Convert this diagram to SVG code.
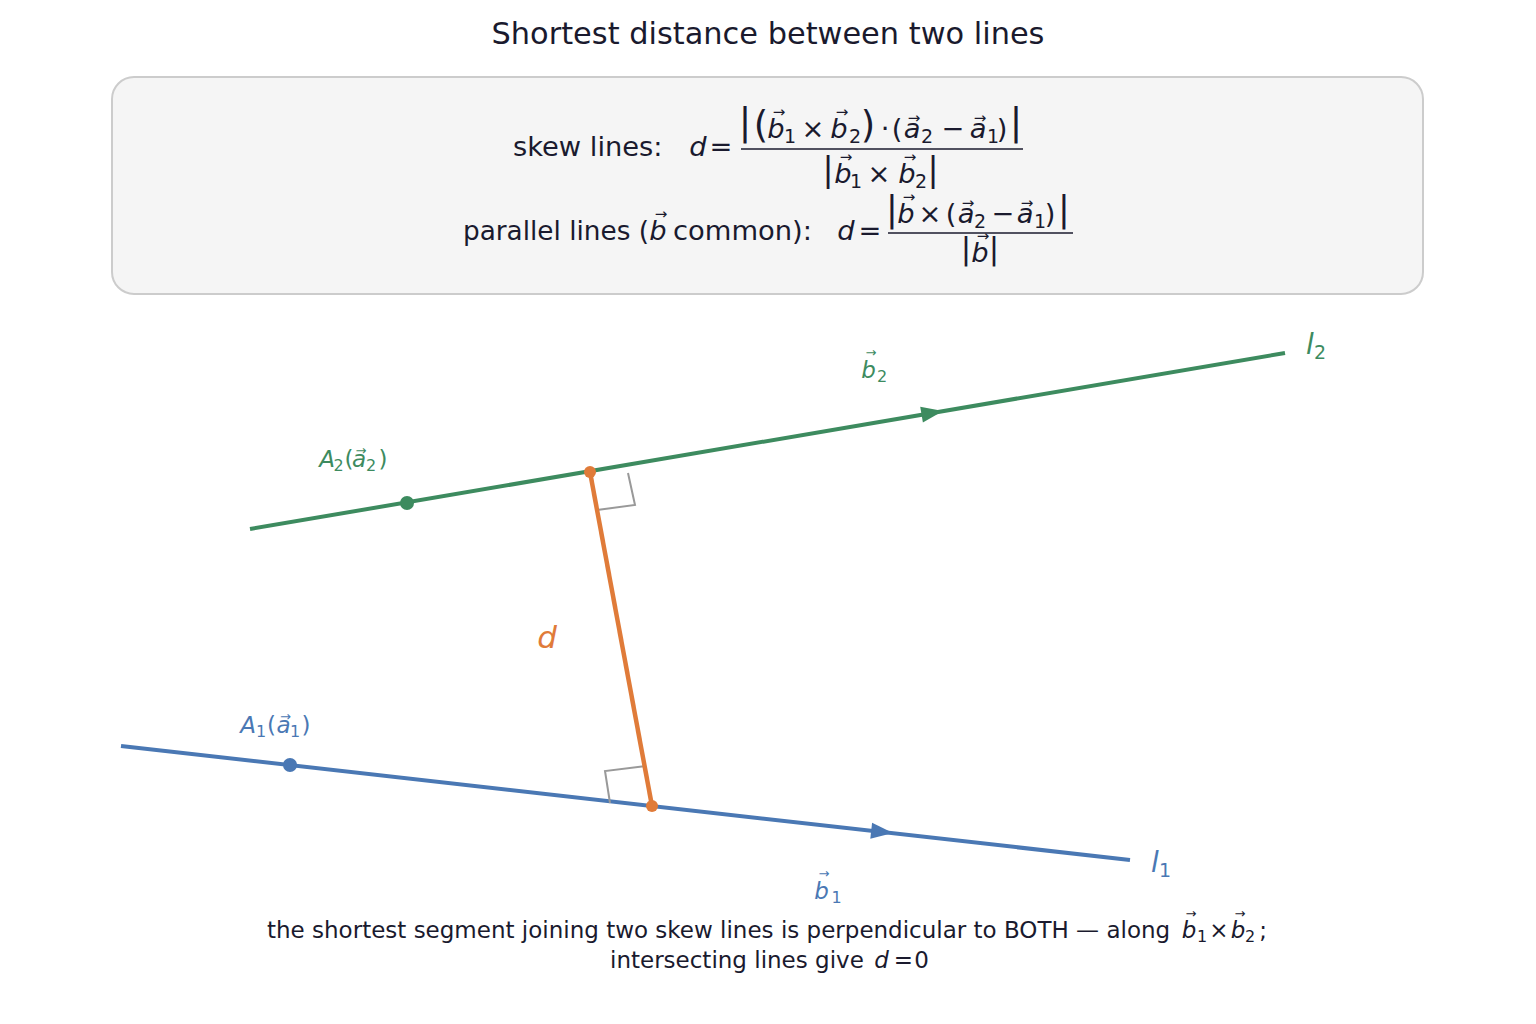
<svg xmlns="http://www.w3.org/2000/svg" width="1536" height="1024" viewBox="0 0 1536 1024">
<style>
text{font-family:"DejaVu Sans","Liberation Sans",sans-serif;fill:#1a1a2e}
.t{font-size:30.4px}
.m{font-size:27.3px}
.ms{font-size:19px}
.i{font-style:italic}
.c{text-anchor:middle}
.v{font-size:15px;text-anchor:middle}
.vs{font-size:13px;text-anchor:middle}
.cap{font-size:23px}
.caps{font-size:16px}
.lb{font-size:23px}
.lbs{font-size:16px}
.g{fill:#3d8b5f}
.b{fill:#4a78b4}
.o{fill:#e07b39}
.gl{stroke:#3d8b5f;stroke-width:4;fill:none}
.bl{stroke:#4a78b4;stroke-width:4;fill:none}
.ol{stroke:#e07b39;stroke-width:4.5;fill:none}
.ra{stroke:#999999;stroke-width:2;fill:none}
</style>
<rect width="1536" height="1024" fill="#ffffff"/>
<g id="title"><text class="t c" x="768" y="44">Shortest distance between two lines</text></g>

<g id="formula-box">
<rect x="112" y="77" width="1311" height="217" rx="22" fill="#f5f5f5" stroke="#cccccc" stroke-width="2"/>
<text class="m" x="513" y="156">skew lines:</text>
<text class="m i c" x="698" y="156">d</text>
<text class="m c" x="721" y="156">=</text>
<line x1="741" y1="149" x2="1023" y2="149" stroke="#1a1a2e" stroke-width="1.3"/>
<text class="c" style="font-size:37px" x="745" y="135">|</text>
<text class="c" style="font-size:37px" x="761" y="138">(</text>
<text class="m i c" x="776" y="138">b</text><text class="v" x="779" y="117">→</text>
<text class="ms c" x="790" y="143">1</text>
<text class="m c" x="813" y="138">×</text>
<text class="m i c" x="839" y="138">b</text><text class="v" x="842" y="117">→</text>
<text class="ms c" x="855" y="143">2</text>
<text class="c" style="font-size:37px" x="868" y="138">)</text>
<text class="m c" x="885" y="138">·</text>
<text class="m c" x="897" y="138">(</text>
<text class="m i c" x="912" y="138">a</text><text class="v" x="914" y="123">→</text>
<text class="ms c" x="927" y="143">2</text>
<text class="m c" x="953" y="138">−</text>
<text class="m i c" x="978" y="138">a</text><text class="v" x="980" y="123">→</text>
<text class="ms c" x="993" y="143">1</text>
<text class="m c" x="1002" y="138">)</text>
<text class="c" style="font-size:37px" x="1016" y="135">|</text>
<text class="c" style="font-size:33px" x="828" y="181">|</text>
<text class="m i c" x="843" y="183">b</text><text class="v" x="846" y="162">→</text>
<text class="ms c" x="856" y="188">1</text>
<text class="m c" x="879" y="183">×</text>
<text class="m i c" x="907" y="183">b</text><text class="v" x="910" y="162">→</text>
<text class="ms c" x="921" y="188">2</text>
<text class="c" style="font-size:33px" x="933" y="181">|</text>
<text class="m" x="463" y="240" textLength="186" lengthAdjust="spacingAndGlyphs">parallel lines (</text>
<text class="m i c" x="658" y="240">b</text><text class="v" x="661" y="219">→</text>
<text class="m" x="673" y="240" textLength="139" lengthAdjust="spacingAndGlyphs">common):</text>
<text class="m i c" x="846" y="240">d</text>
<text class="m c" x="870" y="240">=</text>
<line x1="888" y1="233" x2="1073" y2="233" stroke="#1a1a2e" stroke-width="1.3"/>
<text class="c" style="font-size:35px" x="892" y="221">|</text>
<text class="m i c" x="906" y="223">b</text><text class="v" x="909" y="202">→</text>
<text class="m c" x="930" y="223">×</text>
<text class="m c" x="951" y="223">(</text>
<text class="m i c" x="966" y="223">a</text><text class="v" x="968" y="208">→</text>
<text class="ms c" x="980" y="228">2</text>
<text class="m c" x="1003" y="223">−</text>
<text class="m i c" x="1025" y="223">a</text><text class="v" x="1027" y="208">→</text>
<text class="ms c" x="1040" y="228">1</text>
<text class="m c" x="1050" y="223">)</text>
<text class="c" style="font-size:35px" x="1064" y="221">|</text>
<text class="c" style="font-size:31px" x="966" y="259">|</text>
<text class="m i c" x="980" y="262">b</text><text class="v" x="983" y="241">→</text>
<text class="c" style="font-size:31px" x="994" y="259">|</text>
</g>

<g id="line-l2">
<line class="gl" x1="250" y1="529" x2="1285" y2="353"/>
<polygon class="g" points="943,411 922.9,422.5 920.2,406.7"/>
<circle class="g" cx="407" cy="503" r="7"/>
<text class="lb i c g" x="327" y="467">A</text>
<text class="lbs c g" x="338.5" y="471">2</text>
<text class="lb c g" x="349" y="467">(</text>
<text class="lb i c g" x="359" y="467">a</text><text class="vs g" x="361" y="455">→</text>
<text class="lbs c g" x="371" y="471">2</text>
<text class="lb c g" x="383" y="467">)</text>
<text class="lb i c g" x="868.5" y="378">b</text><text class="vs g" x="871" y="357">→</text>
<text class="lbs c g" x="882" y="382">2</text>
<text class="i c g" style="font-size:28px" x="1310" y="354">l</text>
<text class="c g" style="font-size:19px" x="1320" y="359">2</text>
</g>

<g id="line-l1">
<line class="bl" x1="121" y1="746" x2="1130" y2="860"/>
<polygon class="b" points="893,833 872.1,822.8 870.3,838.7"/>
<circle class="b" cx="290" cy="765" r="7"/>
<text class="lb i c b" x="248" y="733">A</text>
<text class="lbs c b" x="261" y="737">1</text>
<text class="lb c b" x="271.5" y="733">(</text>
<text class="lb i c b" x="283.5" y="733">a</text><text class="vs b" x="285.5" y="721">→</text>
<text class="lbs c b" x="295" y="737">1</text>
<text class="lb c b" x="306" y="733">)</text>
<text class="lb i c b" x="821.5" y="899">b</text><text class="vs b" x="824" y="878">→</text>
<text class="lbs c b" x="836.5" y="903">1</text>
<text class="i c b" style="font-size:28px" x="1155" y="872">l</text>
<text class="c b" style="font-size:19px" x="1165" y="877">1</text>
</g>

<g id="right-angles">
<polyline class="ra" points="597,510 635,505 628,473"/>
<polyline class="ra" points="610,803 605,771 646,766"/>
</g>

<g id="connectors">
<line class="ol" x1="590" y1="472" x2="652" y2="806"/>
<circle class="o" cx="590" cy="472" r="6"/>
<circle class="o" cx="652" cy="806" r="6"/>
</g>
<g id="d-label"><text class="i c o" style="font-size:31px" x="547" y="648">d</text></g>

<g id="caption">
<text class="cap" x="267" y="938">the shortest segment joining two skew lines is perpendicular to BOTH — along</text>
<text class="cap i c" x="1189" y="938">b</text><text class="vs" x="1191" y="918">→</text>
<text class="caps c" x="1202" y="942">1</text>
<text class="cap c" x="1219" y="938">×</text>
<text class="cap i c" x="1238" y="938">b</text><text class="vs" x="1240" y="918">→</text>
<text class="caps c" x="1250" y="942">2</text>
<text class="cap c" x="1263" y="938">;</text>
<text class="cap" x="610" y="968">intersecting lines give</text>
<text class="cap i c" x="881.5" y="968">d</text>
<text class="cap c" x="903.5" y="968">=</text>
<text class="cap c" x="921.5" y="968">0</text>
</g>
</svg>
